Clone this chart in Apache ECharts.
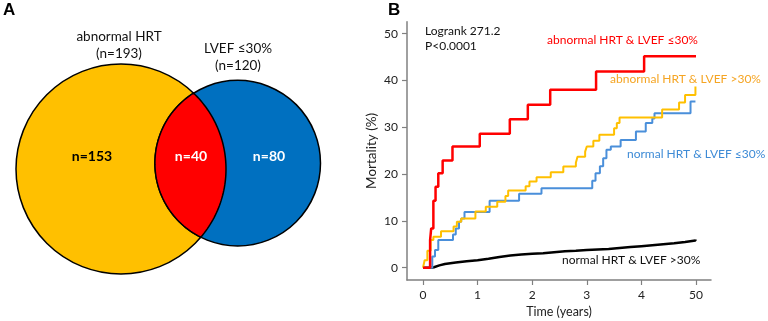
<!DOCTYPE html>
<html>
<head>
<meta charset="utf-8">
<script src="https://cdn.jsdelivr.net/npm/echarts@6/dist/echarts.min.js"></script>
<style>
  html, body { margin: 0; padding: 0; background: #fff; }
  #chart { width: 768px; height: 321px; }
</style>
</head>
<body>
<div id="chart"></div>
<script>
// --- Venn (panel A) ---
const vennSets = ['abnormal HRT', 'LVEF ≤30%'];
const vennTotals = [193, 120];
const vennOverlap = 40;

// --- Kaplan-Meier (panel B) : [time, mortality %] ---
const xTickValues = [0, 1, 2, 3, 4, 5];
const xTickLabels = ['0', '1', '2', '3', '4', '50'];
const yTickValues = [0, 10, 20, 30, 40, 50];
const kmNames = ['normal HRT & LVEF >30%', 'normal HRT & LVEF ≤30%', 'abnormal HRT & LVEF >30%', 'abnormal HRT & LVEF ≤30%'];

const blackSteps = [[0,0],[0.14,0.1],[0.2,0.5],[0.3,0.8],[0.4,1.1],[0.6,1.4],[0.8,1.6],[1.0,1.9],[1.2,2.3],[1.4,2.6],[1.6,2.8],[1.8,3.0],[2.0,3.1],[2.2,3.3],[2.4,3.5],[2.6,3.6],[2.8,3.8],[3.0,3.9],[3.2,4.0],[3.4,4.2],[3.6,4.4],[3.8,4.6],[4.0,4.8],[4.2,5.0],[4.4,5.2],[4.6,5.5],[4.8,5.8],[4.99,6.0]];
const blueSteps = [[0,0],[0.17,2.4],[0.22,3.8],[0.28,5.9],[0.55,7.1],[0.60,8.4],[0.66,9.8],[0.70,10.5],[0.76,11.9],[1.22,14.3],[1.76,15.8],[2.17,17.0],[3.10,18.6],[3.16,20.2],[3.24,21.7],[3.30,23.4],[3.36,25.2],[3.44,25.9],[3.62,27.3],[3.90,29.1],[4.08,30.9],[4.20,31.9],[4.24,33.0],[4.90,35.5],[4.99,35.5]];
const orangeSteps = [[0,0],[0.03,1.6],[0.08,3.6],[0.14,5.9],[0.19,6.6],[0.33,7.8],[0.56,8.8],[0.62,9.8],[0.70,10.5],[0.96,12.0],[1.15,13.0],[1.36,14.1],[1.51,15.3],[1.56,16.5],[1.88,17.4],[1.95,18.4],[2.08,19.3],[2.34,20.4],[2.57,21.6],[2.80,22.4],[2.83,23.7],[2.97,24.8],[3.00,25.9],[3.12,27.1],[3.23,28.4],[3.50,29.8],[3.55,30.9],[3.60,32.1],[4.38,33.8],[4.69,35.3],[4.80,36.9],[4.99,38.7]];
const redSteps = [[0,0],[0.13,5.9],[0.15,8.4],[0.19,14.3],[0.23,17.3],[0.28,20.2],[0.36,22.9],[0.54,25.9],[1.04,28.6],[1.59,31.7],[1.92,34.8],[2.33,38.0],[3.17,41.9],[4.05,45.2],[5.0,45.2]];

const FONT = 'Lato, "DejaVu Sans", sans-serif';

// area-proportional circles: radius from count, distance solved from overlap area
function lensArea(r1, r2, d) {
    if (d >= r1 + r2) return 0;
    if (d <= Math.abs(r1 - r2)) return Math.PI * Math.min(r1, r2) ** 2;
    const a1 = Math.acos((d * d + r1 * r1 - r2 * r2) / (2 * d * r1));
    const a2 = Math.acos((d * d + r2 * r2 - r1 * r1) / (2 * d * r2));
    const t = Math.sqrt((-d + r1 + r2) * (d + r1 - r2) * (d - r1 + r2) * (d + r1 + r2));
    return r1 * r1 * a1 + r2 * r2 * a2 - 0.5 * t;
}
const scaleK = 105 / Math.sqrt(vennTotals[0]);
const r1 = scaleK * Math.sqrt(vennTotals[0]);
const r2 = scaleK * Math.sqrt(vennTotals[1]);
const targetArea = Math.PI * scaleK * scaleK * vennOverlap;
let lo = Math.abs(r1 - r2), hi = r1 + r2;
for (let i = 0; i < 60; i++) {
    const mid = (lo + hi) / 2;
    if (lensArea(r1, r2, mid) > targetArea) lo = mid; else hi = mid;
}
const dist = (lo + hi) / 2;
const tilt = -0.05;
const c1 = [121, 169];
const c2 = [c1[0] + dist * Math.cos(tilt), c1[1] + dist * Math.sin(tilt)];

function renderVenn(params, api) {
    const p1 = api.coord(c1);
    const p2 = api.coord(c2);
    const R1 = api.size([r1, 0])[0];
    const R2 = api.size([r2, 0])[0];
    const dx = p2[0] - p1[0], dy = p2[1] - p1[1];
    const d = Math.sqrt(dx * dx + dy * dy);
    const th = Math.atan2(dy, dx);
    const a = (d * d + R1 * R1 - R2 * R2) / (2 * d);
    const al1 = Math.acos(a / R1);
    const al2 = Math.acos((d - a) / R2);
    const pts = [];
    const n = 60;
    for (let i = 0; i <= n; i++) {
        const ang = th - al1 + 2 * al1 * i / n;
        pts.push([p1[0] + R1 * Math.cos(ang), p1[1] + R1 * Math.sin(ang)]);
    }
    for (let i = 0; i <= n; i++) {
        const ang = th + Math.PI - al2 + 2 * al2 * i / n;
        pts.push([p2[0] + R2 * Math.cos(ang), p2[1] + R2 * Math.sin(ang)]);
    }
    const only1 = vennTotals[0] - vennOverlap;
    const only2 = vennTotals[1] - vennOverlap;
    const bold = { fontFamily: FONT, fontSize: 14, fontWeight: 'bold', align: 'center', verticalAlign: 'middle' };
    return {
        type: 'group',
        children: [
            { type: 'circle', shape: { cx: p1[0], cy: p1[1], r: R1 }, style: { fill: '#FFC000', stroke: '#000', lineWidth: 1.5 } },
            { type: 'circle', shape: { cx: p2[0], cy: p2[1], r: R2 }, style: { fill: '#0070C0', stroke: '#000', lineWidth: 1.5 } },
            { type: 'polygon', shape: { points: pts }, style: { fill: '#FF0000', stroke: '#000', lineWidth: 1.5 } },
            { type: 'text', x: 92, y: 156, style: Object.assign({ text: 'n=' + only1, fill: '#000' }, bold) },
            { type: 'text', x: 191, y: 156, style: Object.assign({ text: 'n=' + vennOverlap, fill: '#fff' }, bold) },
            { type: 'text', x: 269, y: 156, style: Object.assign({ text: 'n=' + only2, fill: '#fff' }, bold) },
            { type: 'text', x: 119, y: 45, style: { text: vennSets[0] + '\n(n=' + vennTotals[0] + ')', fontFamily: FONT, fontSize: 13.5, lineHeight: 17, fill: '#111', align: 'center', verticalAlign: 'middle' } },
            { type: 'text', x: 238, y: 57, style: { text: vennSets[1] + '\n(n=' + vennTotals[1] + ')', fontFamily: FONT, fontSize: 13.5, lineHeight: 17, fill: '#111', align: 'center', verticalAlign: 'middle' } }
        ]
    };
}

const chart = echarts.init(document.getElementById('chart'));

function kmLine(name, data, color, width) {
    return {
        name: name,
        type: 'line',
        xAxisIndex: 1,
        yAxisIndex: 1,
        step: 'end',
        data: data,
        showSymbol: false,
        symbol: 'none',
        lineStyle: { color: color, width: width },
        z: 3
    };
}

const axisCommon = {
    axisLine: { show: true, onZero: false, lineStyle: { color: '#808080', width: 1.5 } },
    axisTick: { show: true, length: 5, lineStyle: { color: '#808080', width: 1.2 } },
    splitLine: { show: false },
    nameTextStyle: { fontFamily: FONT, fontSize: 12.5, color: '#222' }
};

const option = {
    animation: false,
    backgroundColor: '#fff',
    grid: [
        { left: 0, top: 0, width: 384, height: 321, containLabel: false, outerBoundsMode: 'none' },
        { left: 407, top: 21.7, width: 304, height: 258.3, containLabel: false, outerBoundsMode: 'none' }
    ],
    xAxis: [
        { gridIndex: 0, type: 'value', min: 0, max: 384, show: false },
        Object.assign({}, axisCommon, {
            gridIndex: 1, type: 'value', min: -0.293, max: 5.275,
            name: 'Time (years)', nameLocation: 'middle', nameGap: 25,
            axisTick: Object.assign({}, axisCommon.axisTick, { customValues: xTickValues }),
            axisLabel: {
                customValues: xTickValues, margin: 9,
                fontFamily: FONT, fontSize: 12, color: '#222',
                formatter: v => xTickLabels[xTickValues.indexOf(v)]
            }
        })
    ],
    yAxis: [
        { gridIndex: 0, type: 'value', min: 0, max: 321, inverse: true, show: false },
        Object.assign({}, axisCommon, {
            gridIndex: 1, type: 'value', min: -2.63, max: 52.56,
            name: 'Mortality (%)', nameLocation: 'middle', nameGap: 28,
            nameTextStyle: { fontFamily: FONT, fontSize: 13.5, color: '#222' },
            axisTick: Object.assign({}, axisCommon.axisTick, { customValues: yTickValues }),
            axisLabel: { customValues: yTickValues, margin: 9, fontFamily: FONT, fontSize: 12, color: '#222' }
        })
    ],
    series: [
        { type: 'custom', xAxisIndex: 0, yAxisIndex: 0, renderItem: renderVenn, data: [[0, 0]], silent: true, clip: false },
        kmLine(kmNames[0], blackSteps, '#000000', 2.5),
        kmLine(kmNames[1], blueSteps, '#4A8FDA', 2),
        kmLine(kmNames[2], orangeSteps, '#FFC000', 2),
        kmLine(kmNames[3], redSteps, '#FF0000', 2.5)
    ],
    graphic: [
        { type: 'text', left: 3, top: 2, style: { text: 'A', font: 'bold 17px "Liberation Sans", Arial, sans-serif', fill: '#000' } },
        { type: 'text', left: 388, top: 2, style: { text: 'B', font: 'bold 17px "Liberation Sans", Arial, sans-serif', fill: '#000' } },
        { type: 'text', left: 425, top: 23, style: { text: 'Logrank 271.2\nP<0.0001', fontFamily: FONT, fontSize: 12, lineHeight: 15.5, fill: '#111' } },
        { type: 'text', left: 547, top: 34, style: { text: kmNames[3], fontFamily: FONT, fontSize: 12, fill: '#FF0000' } },
        { type: 'text', left: 610, top: 73, style: { text: kmNames[2], fontFamily: FONT, fontSize: 12, fill: '#F5A524' } },
        { type: 'text', left: 627, top: 148, style: { text: kmNames[1], fontFamily: FONT, fontSize: 12, fill: '#3E8BD6' } },
        { type: 'text', left: 562, top: 254, style: { text: kmNames[0], fontFamily: FONT, fontSize: 12, fill: '#111' } }
    ]
};

chart.setOption(option);
window.addEventListener('resize', () => chart.resize());
</script>
</body>
</html>
